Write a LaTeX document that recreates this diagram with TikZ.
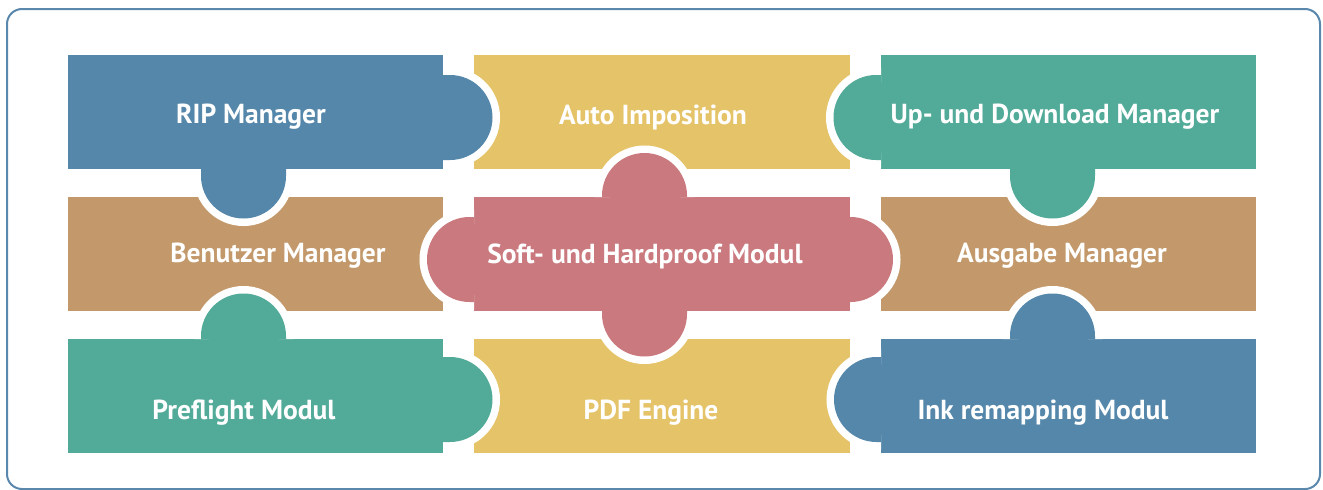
\documentclass[tikz,border=0pt]{standalone}
\usepackage{fontspec}
\setmainfont{PT Sans}
\usepackage{tikz}

\definecolor{ripblue}{HTML}{5587AA}
\definecolor{sandyellow}{HTML}{E5C369}
\definecolor{seateal}{HTML}{52AA98}
\definecolor{clayrose}{HTML}{CA7A7E}
\definecolor{woodtan}{HTML}{C3996B}
\definecolor{framecol}{HTML}{5A88AD}

\tikzset{
  knob/.style={preaction={draw=white, line width=15}},
  lbl/.style={text=white, font=\fontsize{27.5}{32}\selectfont\bfseries, inner sep=0pt}
}

\begin{document}
\begin{tikzpicture}[x=1pt, y=1pt]
    \useasboundingbox (0,0) rectangle (1323,-490);
    \draw[framecol, line width=2, rounded corners=15] (7,-9) rectangle (1320,-489);

    % pieces
    \fill[ripblue]     (68,-55)   rectangle (443,-169);
    \fill[sandyellow]  (474,-55)  rectangle (850,-169);
    \fill[seateal]     (881,-55)  rectangle (1256,-169);
    \fill[woodtan]     (68,-197)  rectangle (443,-311);
    \fill[clayrose]    (474,-197) rectangle (850,-311);
    \fill[woodtan]     (881,-197) rectangle (1256,-311);
    \fill[seateal]     (68,-339)  rectangle (443,-453);
    \fill[sandyellow]  (474,-339) rectangle (850,-453);
    \fill[ripblue]     (881,-339) rectangle (1256,-453);

    % knobs
    \fill[ripblue, knob] (443,-75) -- (450,-75) arc[start angle=90, end angle=-90, radius=42.5] -- (443,-160);
    \fill[ripblue, knob] (201,-169) -- (201,-176) arc[start angle=180, end angle=360, radius=42.5] -- (286,-169);
    \fill[seateal, knob] (881,-75) -- (876,-75) arc[start angle=90, end angle=270, radius=42.5] -- (881,-160);
    \fill[seateal, knob] (1010,-169) -- (1010,-176) arc[start angle=180, end angle=360, radius=42.5] -- (1095,-169);
    \fill[clayrose, knob] (474,-217) -- (469.5,-217) arc[start angle=90, end angle=270, radius=42.5] -- (474,-302);
    \fill[clayrose, knob] (850,-217) -- (850.5,-217) arc[start angle=90, end angle=-90, radius=42.5] -- (850,-302);
    \fill[clayrose, knob] (602,-197) -- (602,-195.5) arc[start angle=180, end angle=0, radius=42.5] -- (687,-197);
    \fill[clayrose, knob] (602,-311) -- (602,-314) arc[start angle=180, end angle=360, radius=42.5] -- (687,-311);
    \fill[seateal, knob] (443,-357) -- (450,-357) arc[start angle=90, end angle=-90, radius=42.5] -- (443,-442);
    \fill[seateal, knob] (201,-339) -- (201,-336) arc[start angle=180, end angle=0, radius=42.5] -- (286,-339);
    \fill[ripblue, knob] (881,-357) -- (876.5,-357) arc[start angle=90, end angle=270, radius=42.5] -- (881,-442);
    \fill[ripblue, knob] (1010,-339) -- (1010,-336) arc[start angle=180, end angle=0, radius=42.5] -- (1095,-339);

    % labels
    \node[lbl] (rip)  at (251,-117)  {RIP Manager};
    \node[lbl] (auto) at (653,-117)  {Auto Imposition};
    \node[lbl] (updl) at (1055,-117) {Up- und Download Manager};
    \node[lbl] (user) at (278,-256)  {Benutzer Manager};
    \node[lbl] (soft) at (645,-256)  {Soft- und Hardproof Modul};
    \node[lbl] (out)  at (1062,-256) {Ausgabe Manager};
    \node[lbl] (pre)  at (244,-413)  {Preflight Modul};
    \node[lbl] (pdf)  at (651,-413)  {PDF Engine};
    \node[lbl] (ink)  at (1043,-413) {Ink remapping Modul};
\end{tikzpicture}
\end{document}
